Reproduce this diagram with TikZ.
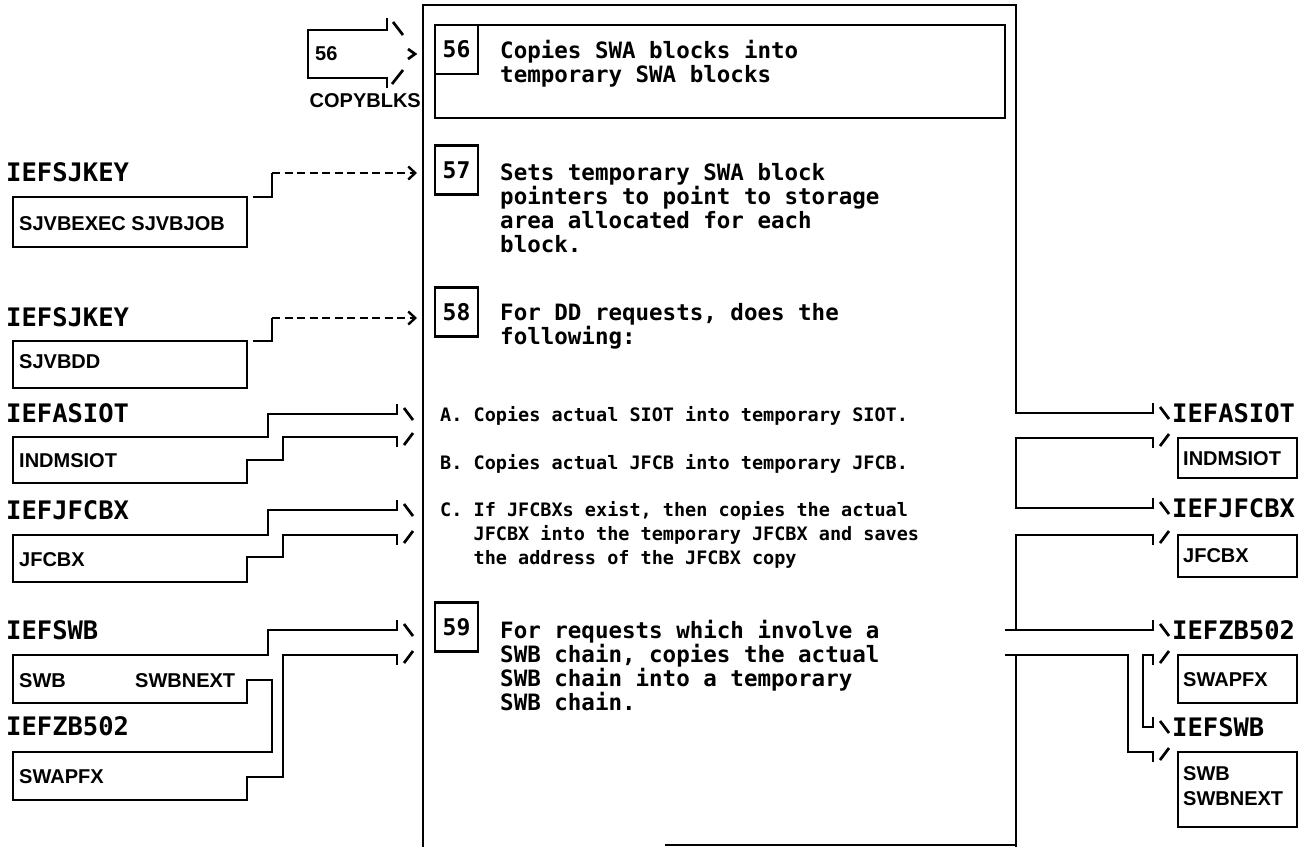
\documentclass[tikz,border=0pt]{standalone}
\usepackage{fontspec}
\usetikzlibrary{arrows.meta}
\newfontfamily\monof{DejaVu Sans Mono}
\newfontfamily\sansf{Liberation Sans}
\newcommand\hipobs[2]{\draw[ln] ({#1+7},{#2-6}) -- ({#1+16},{#2+6});}
\newcommand\hipofs[2]{\draw[ln] ({#1+7},{#2+8}) -- ({#1+16},{#2-4});}
\begin{document}
\begin{tikzpicture}[x=1pt,y=-1pt,
  ln/.style={line width=2.7pt, line join=miter},
  lbl/.style={font=\monof\bfseries\fontsize{25.5}{27}\selectfont, inner sep=0pt, anchor=west},
  rlbl/.style={lbl},
  bxt/.style={font=\sansf\bfseries\fontsize{20}{22}\selectfont, inner sep=0pt, anchor=west},
  mt/.style={font=\monof\bfseries\fontsize{22.5}{24}\selectfont, inner sep=0pt, anchor=base west},
  st/.style={font=\monof\bfseries\fontsize{18.5}{20}\selectfont, inner sep=0pt, anchor=base west},
  num/.style={draw, line width=2.7pt, minimum width=43pt, minimum height=49pt, inner sep=0pt,
              font=\monof\bfseries\fontsize{23}{24}\selectfont},
  dsh/.style={line width=2.4pt, dash pattern=on 8pt off 4.5pt},
  tip/.style={-{Straight Barb[length=7pt,width=13pt,line width=2.4pt]}}
]
\useasboundingbox (0,0) rectangle (1315,847);

% ---------- central box ----------
\draw[ln] (1153,403) -- (1153,413) -- (1016,413) -- (1016,5) -- (423,5) -- (423,847);
\draw[ln] (665,845) -- (1016,845);
\draw[ln] (435,25) rectangle (1005,118);
\node[num] (n56) at (456.5,49.5) {56};
\node[num] (n57) at (456.5,170) {57};
\node[num] (n58) at (456.5,312) {58};
\node[num] (n59) at (456.5,627) {59};

\node[mt] (t56a) at (500,58) {Copies SWA blocks into};
\node[mt] (t56b) at (500,82) {temporary SWA blocks};
\node[mt] (t57a) at (500,180) {Sets temporary SWA block};
\node[mt] (t57b) at (500,204) {pointers to point to storage};
\node[mt] (t57c) at (500,228) {area allocated for each};
\node[mt] (t57d) at (500,252) {block.};
\node[mt] (t58a) at (500,320) {For DD requests, does the};
\node[mt] (t58b) at (500,344) {following:};
\node[st] (tA) at (440,421) {A. Copies actual SIOT into temporary SIOT.};
\node[st] (tB) at (440,469) {B. Copies actual JFCB into temporary JFCB.};
\node[st] (tC1) at (440,516) {C. If JFCBXs exist, then copies the actual};
\node[st] (tC2) at (440,540) {\phantom{C. }JFCBX into the temporary JFCBX and saves};
\node[st] (tC3) at (440,564) {\phantom{C. }the address of the JFCBX copy};
\node[mt] (t59a) at (500,638) {For requests which involve a};
\node[mt] (t59b) at (500,662) {SWB chain, copies the actual};
\node[mt] (t59c) at (500,686) {SWB chain into a temporary};
\node[mt] (t59d) at (500,710) {SWB chain.};

% ---------- left: 56 arrow ----------
\draw[ln] (387,18) -- (387,30) -- (308,30) -- (308,78) -- (387,78) -- (387,88);
\draw[ln] (393,22) -- (403,35);
\draw[ln] (392,84) -- (403,70);
\draw[ln] (408,49) -- (415,54) -- (408,59);
\node[bxt] (l56) at (315,54) {56};
\node[bxt, anchor=east] (copyblks) at (421,101) {COPYBLKS};

% ---------- left: IEFSJKEY 1 ----------
\node[lbl] (k1) at (6,172) {IEFSJKEY};
\draw[ln] (13,197) rectangle (247,247);
\node[bxt] (k1b) at (19,224) {SJVBEXEC SJVBJOB};
\coordinate (k1s) at (272,173);
\coordinate (k1e) at (417,173);
\draw[ln] (253,197) -- (272,197) -- (k1s);
\draw[dsh, tip] (k1s) -- (k1e);

% ---------- left: IEFSJKEY 2 ----------
\node[lbl] (k2) at (6,317) {IEFSJKEY};
\draw[ln] (13,341) rectangle (247,388);
\node[bxt] (k2b) at (19,362) {SJVBDD};
\coordinate (k2s) at (272,318);
\coordinate (k2e) at (417,318);
\draw[ln] (253,341) -- (272,341) -- (k2s);
\draw[dsh, tip] (k2s) -- (k2e);

% ---------- left: IEFASIOT ----------
\node[lbl] (la) at (6,413) {IEFASIOT};
\draw[ln] (397,404) -- (397,414) -- (268,414) -- (268,437) -- (13,437) -- (13,483)
  -- (247,483) -- (247,460) -- (283,460) -- (283,437) -- (397,437) -- (397,447);
\hipobs{397}{414}
\hipofs{397}{437}
\node[bxt] (lab) at (19,461) {INDMSIOT};

% ---------- left: IEFJFCBX ----------
\node[lbl] (lj) at (6,510) {IEFJFCBX};
\draw[ln] (397,500) -- (397,510) -- (268,510) -- (268,535) -- (13,535) -- (13,582)
  -- (247,582) -- (247,557) -- (283,557) -- (283,535) -- (397,535) -- (397,545);
\hipobs{397}{510}
\hipofs{397}{535}
\node[bxt] (ljb) at (19,560) {JFCBX};

% ---------- left: IEFSWB / IEFZB502 ----------
\node[lbl] (ls) at (6,630) {IEFSWB};
\draw[ln] (397,620) -- (397,630) -- (268,630) -- (268,655) -- (13,655) -- (13,703)
  -- (247,703) -- (247,680) -- (272,680) -- (272,752) -- (13,752) -- (13,800)
  -- (247,800) -- (247,777) -- (283,777) -- (283,655) -- (397,655) -- (397,665);
\hipobs{397}{630}
\hipofs{397}{655}
\node[bxt] (lsb1) at (19,681) {SWB};
\node[bxt] (lsb2) at (135,681) {SWBNEXT};
\node[lbl] (lz) at (6,726) {IEFZB502};
\node[bxt] (lzb) at (19,777) {SWAPFX};

% ---------- right side ----------
\draw[ln] (1153,448) -- (1153,438) -- (1016,438) -- (1016,508) -- (1153,508) -- (1153,498);
\draw[ln] (1153,545) -- (1153,535) -- (1016,535) -- (1016,630);
\draw[ln] (1005,630) -- (1153,630) -- (1153,620);
\draw[ln] (1005,655) -- (1128,655) -- (1128,752) -- (1153,752) -- (1153,762);
\draw[ln] (1016,655) -- (1016,847);
\draw[ln] (1153,665) -- (1153,655) -- (1143,655) -- (1143,727) -- (1153,727) -- (1153,717);
\hipobs{1153}{413}
\hipofs{1153}{438}
\hipobs{1153}{508}
\hipofs{1153}{535}
\hipobs{1153}{630}
\hipofs{1153}{655}
\hipobs{1153}{727}
\hipofs{1153}{752}

\node[rlbl] (ra) at (1172,413) {IEFASIOT};
\node[rlbl] (rj) at (1172,508) {IEFJFCBX};
\node[rlbl] (rz) at (1172,630) {IEFZB502};
\node[rlbl] (rs) at (1172,727) {IEFSWB};

\draw[ln] (1178,438) rectangle (1297,478);
\node[bxt] (rab) at (1183,459) {INDMSIOT};
\draw[ln] (1178,535) rectangle (1297,577);
\node[bxt] (rjb) at (1183,556) {JFCBX};
\draw[ln] (1178,655) rectangle (1297,703);
\node[bxt] (rzb) at (1183,680) {SWAPFX};
\draw[ln] (1178,752) rectangle (1297,827);
\node[bxt] (rsb1) at (1183,774) {SWB};
\node[bxt] (rsb2) at (1183,799) {SWBNEXT};
\end{tikzpicture}
\end{document}
